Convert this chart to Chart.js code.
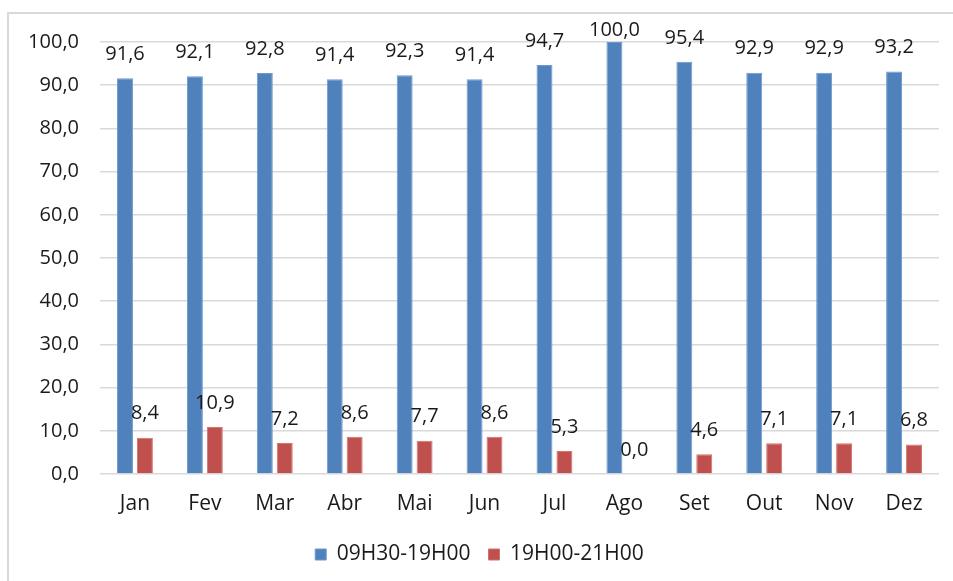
<!DOCTYPE html>
<html>
<head>
<meta charset="utf-8">
<script src="https://cdn.jsdelivr.net/npm/chart.js@4"></script>
<style>
    body { margin: 0; background: #fff; }
    #wrap { position: relative; width: 953px; height: 581px; overflow: hidden; }
    #frame {
        position: absolute; left: 7px; top: 12px; width: 1000px; height: 1000px;
        border-top: 2px solid #d9d9d9; border-left: 2px solid #d9d9d9;
    }
    #chart { position: absolute; left: 0; top: 0; }
</style>
</head>
<body>
<div id="wrap">
    <div id="frame"></div>
    <canvas id="chart" width="953" height="581"></canvas>
</div>
<script>
const months = ['Jan', 'Fev', 'Mar', 'Abr', 'Mai', 'Jun', 'Jul', 'Ago', 'Set', 'Out', 'Nov', 'Dez'];
const dayShift = [91.6, 92.1, 92.8, 91.4, 92.3, 91.4, 94.7, 100.0, 95.4, 92.9, 92.9, 93.2];
const eveningShift = [8.4, 10.9, 7.2, 8.6, 7.7, 8.6, 5.3, 0.0, 4.6, 7.1, 7.1, 6.8];
const seriesNames = ['09H30-19H00', '19H00-21H00'];

const fmt = v => Number(v).toFixed(1).replace('.', ',');
const fontName = "'Open Sans', sans-serif";

// labels above bars, kept inside the plot like Excel does
const valueLabels = {
    id: 'valueLabels',
    afterDatasetsDraw(chart) {
        const ctx = chart.ctx;
        ctx.save();
        ctx.font = '20px ' + fontName;
        ctx.fillStyle = '#1a1a1a';
        ctx.textAlign = 'center';
        ctx.textBaseline = 'middle';
        chart.data.datasets.forEach((ds, i) => {
            chart.getDatasetMeta(i).data.forEach((bar, j) => {
                let y = bar.y - 24;
                if (y < 30) y = 30;
                ctx.fillText(fmt(ds.data[j]), bar.x, y);
            });
        });
        ctx.restore();
    }
};

new Chart(document.getElementById('chart'), {
    type: 'bar',
    data: {
        labels: months,
        datasets: [{
            label: seriesNames[0],
            data: dayShift,
            backgroundColor: '#4f81bd',
            borderColor: '#6f98cc',
            borderWidth: 1,
            categoryPercentage: 0.57,
            barPercentage: 0.8
        }, {
            label: seriesNames[1],
            data: eveningShift,
            backgroundColor: '#c0504d',
            borderColor: '#d27370',
            borderWidth: 1,
            categoryPercentage: 0.57,
            barPercentage: 0.8
        }]
    },
    options: {
        responsive: false,
        animation: false,
        layout: { padding: { left: 20, right: 14, top: 42, bottom: 6 } },
        scales: {
            x: {
                grid: { display: false },
                border: { display: false },
                ticks: { color: '#1a1a1a', font: { family: fontName, size: 21 }, padding: 9 },
                afterFit(scale) { scale.height = 52; }
            },
            y: {
                min: 0,
                max: 100,
                grid: { color: '#d9d9d9', lineWidth: 1.5, drawTicks: false },
                border: { display: false },
                ticks: {
                    stepSize: 10,
                    color: '#1a1a1a',
                    font: { family: fontName, size: 20 },
                    padding: 21,
                    callback: v => fmt(v)
                },
                afterFit(scale) { scale.width = 80; }
            }
        },
        plugins: {
            legend: {
                position: 'bottom',
                labels: {
                    color: '#1a1a1a',
                    font: { family: fontName, size: 21 },
                    boxWidth: 11,
                    boxHeight: 11,
                    padding: 18
                }
            },
            tooltip: { enabled: false }
        }
    },
    plugins: [valueLabels]
});
</script>
</body>
</html>
